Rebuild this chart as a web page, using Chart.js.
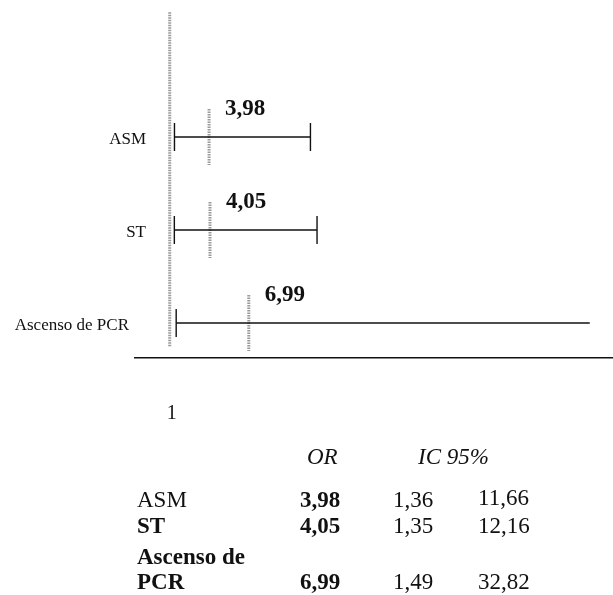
<!DOCTYPE html>
<html>
<head>
<meta charset="utf-8">
<script src="https://cdn.jsdelivr.net/npm/chart.js@4"></script>
<style>
  html, body { margin: 0; padding: 0; background: #fff; overflow: hidden; }
  #wrap { position: relative; width: 613px; height: 595px; overflow: hidden; }
  #chartBox { position: absolute; left: 0; top: 0; width: 613px; height: 595px; }
  .t { position: absolute; font-family: "Liberation Serif", "DejaVu Serif", serif; font-size: 23px; color: #111; white-space: nowrap; line-height: 1; }
  .b { font-weight: bold; }
  .i { font-style: italic; }
</style>
</head>
<body>
<div id="wrap">
  <div id="chartBox"><canvas id="c"></canvas></div>
  <div id="table"></div>
</div>
<script>
// ---- data ----
const categories = ["ASM", "ST", "Ascenso de PCR"];
const tableLabels = [["ASM"], ["ST"], ["Ascenso de", "PCR"]];
const oddsRatio = [3.98, 4.05, 6.99];
const ciLower = [1.36, 1.35, 1.49];
const ciUpper = [11.66, 12.16, 32.82];
const orLabels = ["3,98", "4,05", "6,99"];
const lowerLabels = ["1,36", "1,35", "1,49"];
const upperLabels = ["11,66", "12,16", "32,82"];
const upperCapShown = [true, true, false];
const referenceValue = 1;
const xTickLabels = ["1"];

const SERIF = '"Liberation Serif", "DejaVu Serif", serif';
const GREY = '#9a9a9a';

const datasets = [];
// reference line at OR = 1
datasets.push({
  type: 'line',
  data: [{x: referenceValue, y: -1.34}, {x: referenceValue, y: 2.26}],
  borderColor: GREY, borderWidth: 3, borderDash: [1.5, 1],
  pointRadius: 0, fill: false, order: 5
});
categories.forEach((c, i) => {
  // CI line
  datasets.push({
    type: 'line',
    data: [{x: ciLower[i], y: i}, {x: ciUpper[i], y: i}],
    borderColor: '#111', borderWidth: 1.4, pointRadius: 0, fill: false, order: 2
  });
  // caps
  datasets.push({
    type: 'scatter',
    data: [{x: ciLower[i], y: i}, {x: ciUpper[i], y: i}],
    pointStyle: 'line', rotation: 90,
    pointRadius: ctx => (ctx.dataIndex === 1 && !upperCapShown[i]) ? 0 : 14,
    pointBorderColor: '#111', pointBorderWidth: 1.4, borderColor: '#111', borderWidth: 1.4, order: 1
  });
  // OR marker
  datasets.push({
    type: 'line',
    data: [{x: oddsRatio[i], y: i - 0.3}, {x: oddsRatio[i], y: i + 0.3}],
    borderColor: GREY, borderWidth: 3, borderDash: [1.5, 1],
    pointRadius: 0, fill: false, order: 3
  });
});

const labelPlugin = {
  id: 'labels',
  afterDatasetsDraw(chart) {
    const ctx = chart.ctx, xs = chart.scales.x, ys = chart.scales.y;
    ctx.save();
    ctx.fillStyle = '#111';
    ctx.textBaseline = 'middle';
    // OR values
    ctx.font = 'bold 23px ' + SERIF;
    ctx.textAlign = 'left';
    oddsRatio.forEach((v, i) => {
      ctx.fillText(orLabels[i], xs.getPixelForValue(v) + 16, ys.getPixelForValue(i) - 28);
    });
    // category labels
    ctx.font = '17px ' + SERIF;
    ctx.textAlign = 'right';
    categories.forEach((c, i) => {
      const off = i === 2 ? 6 : 23;
      ctx.fillText(c, xs.left - 12 + off, ys.getPixelForValue(i) + 3);
    });
    ctx.restore();
  }
};

new Chart(document.getElementById('c'), {
  type: 'scatter',
  data: { datasets },
  plugins: [labelPlugin],
  options: {
    responsive: true, maintainAspectRatio: false, animation: false,
    layout: { autoPadding: false, padding: { left: 135, right: 0, top: 12, bottom: 0 } },
    plugins: { legend: { display: false }, tooltip: { enabled: false } },
    scales: {
      x: {
        type: 'linear', min: -1.63, max: 34.58,
        afterBuildTicks: axis => { axis.ticks = xTickLabels.map(t => ({ value: parseFloat(t) })); },
        afterFit: axis => { axis.height = 595 - 358; },
        grid: { display: false, drawTicks: false },
        border: { display: true, color: '#111', width: 1.4 },
        ticks: { padding: 44, labelOffset: 2, color: '#111', font: { family: SERIF, size: 20 }, callback: v => String(v) }
      },
      y: {
        type: 'linear', min: -1.344, max: 2.376, reverse: true,
        display: false
      }
    }
  }
});

// ---- table below chart ----
const tbl = document.getElementById('table');
function addText(txt, x, y, cls) {
  const d = document.createElement('div');
  d.className = 't ' + (cls || '');
  d.textContent = txt;
  d.style.left = x + 'px';
  d.style.top = (y - 11.5) + 'px';
  tbl.appendChild(d);
}
addText('OR', 307, 456, 'i');
addText('IC 95%', 418, 456, 'i');
const rowY = [499, 525, 581];
tableLabels.forEach((lines, i) => {
  if (lines.length === 1) {
    addText(lines[0], 137, rowY[i], i === 0 ? '' : 'b');
  } else {
    addText(lines[0], 137, rowY[i] - 25, 'b');
    addText(lines[1], 137, rowY[i], 'b');
  }
  addText(orLabels[i], 300, rowY[i], 'b');
  addText(lowerLabels[i], 393, rowY[i]);
  addText(upperLabels[i], 478, rowY[i] - (i === 0 ? 2 : 0));
});
</script>
</body>
</html>
